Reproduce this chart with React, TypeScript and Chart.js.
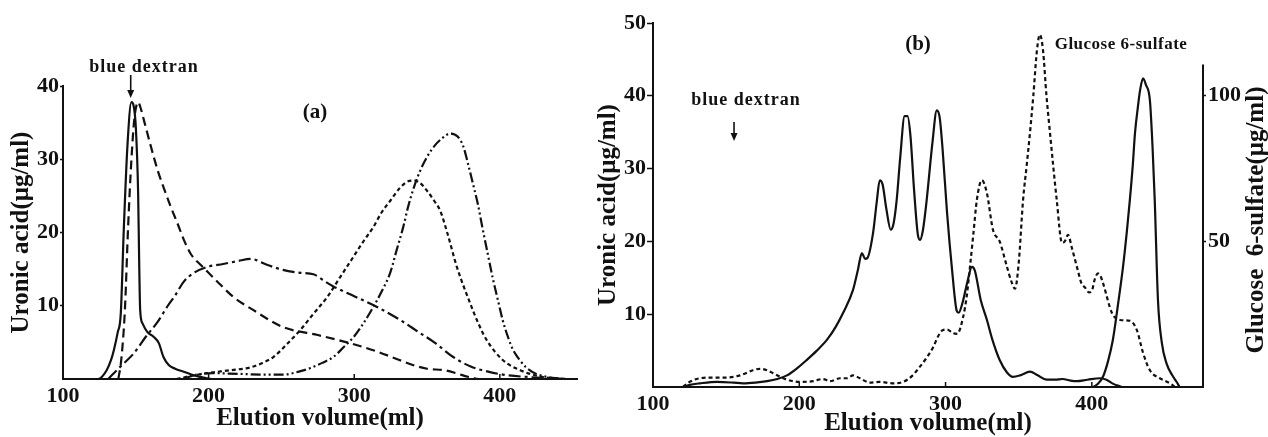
import React, { useEffect, useRef } from "react";
import { Chart, registerables } from "chart.js";

Chart.register(...registerables);

// ---------- Panel (a): uronic acid elution profiles ----------
const aXTicks = [100, 200, 300, 400];
const aYTicks = [10, 20, 30, 40];

const aSolidX = [100, 124, 130, 133, 135, 137.5, 139.7, 141.8, 144.3, 147, 148.6, 150, 151.6, 152.3, 153, 154.6, 158, 162, 165.8, 169, 172.6, 177, 182.9, 190, 199, 202];
const aSolidY = [0, 0, 1.2, 2.6, 4, 6.3, 9, 20.7, 32, 37.8, 37.2, 34.4, 25.4, 16.2, 9.4, 7.6, 6.4, 5.8, 4.9, 3, 1.9, 1.4, 1, 0.5, 0.1, 0];

const aDashX = [138, 140, 142.5, 144.7, 147, 149, 151.6, 153, 156, 160, 165, 169, 174, 178.5, 183, 188, 195, 205, 217, 230, 251, 275, 297, 315, 331, 342, 350, 362, 370, 378, 385];
const aDashY = [0, 2.6, 9.4, 20.7, 30, 35.5, 37.8, 37.2, 35, 32, 28.5, 26.2, 23.5, 21.3, 19, 17, 15.5, 13.5, 11.2, 9.5, 7.1, 6, 4.9, 3.8, 2.6, 1.8, 1.4, 1.2, 0.8, 0.3, 0];

const aDashDotX = [131, 140, 148.6, 157, 165, 172, 177, 183, 190, 199, 210, 220, 229, 240, 251, 263, 272, 280, 286, 300, 316, 332, 345, 355, 368, 380, 392, 402, 425, 446];
const aDashDotY = [0, 1.8, 3.5, 5.8, 7.8, 10, 11.4, 13.3, 14.5, 15.3, 15.7, 16.1, 16.4, 15.6, 14.9, 14.5, 14.3, 13.3, 12.6, 11.3, 9.8, 8, 6.3, 5, 3, 1.7, 1, 0.6, 0.2, 0];

const aDotX = [178, 190, 199, 215, 229, 237, 244.5, 253, 263, 272, 281.5, 290, 299.5, 306, 313, 319, 325, 331, 336, 341, 345, 350, 355, 359, 364, 370.5, 379.5, 385, 391, 402, 414, 429, 446];
const aDotY = [0, 0.5, 0.8, 1.2, 1.6, 2.2, 3, 4.6, 6.7, 8.9, 11.2, 13.8, 16.7, 18.7, 20.7, 22.8, 24.4, 26, 26.9, 27.1, 26.8, 25.7, 24.3, 23, 19.9, 15.3, 10.4, 7.7, 5.3, 2.6, 1.2, 0.3, 0];

const aDashDotDotX = [182, 192, 203, 220, 240, 251, 262, 270, 278, 285.6, 293, 299.5, 306, 313, 319, 324.7, 329, 333.6, 337, 340.4, 345, 350, 355, 360, 366, 371, 375, 378, 381.5, 385, 388, 392, 395, 399, 402, 406, 409, 414, 418, 425, 432, 443];
const aDashDotDotY = [0, 0.6, 0.8, 0.7, 0.6, 0.6, 1, 1.5, 2.2, 3, 4.4, 5.7, 7.5, 9.8, 12, 14.5, 17.5, 20.7, 23.5, 25.8, 28.3, 30.3, 31.8, 32.8, 33.5, 33.1, 31.7, 29.5, 26.7, 23.8, 20.7, 16.8, 13.9, 10.5, 8, 5.5, 4, 2.5, 1.6, 0.7, 0.3, 0];

// ---------- Panel (b) ----------
const bXTicks = [100, 200, 300, 400];
const bYTicks = [10, 20, 30, 40, 50];
const bY1Ticks = [50, 100];

const bSolidX = [100, 120, 125, 132, 143.7, 155, 161.5, 170, 178, 185, 191.6, 198, 205, 212, 219, 225, 230, 236.7, 240, 242.8, 245, 246.5, 250.4, 253, 255, 257, 259.5, 262.5, 264.5, 266.6, 269, 272, 274, 276, 278.5, 281, 282.5, 284.5, 287, 291, 294, 296, 298, 301, 304.5, 307.6, 309, 311.5, 315, 318, 320, 324, 328.3, 332, 337, 342, 346, 351, 357.7, 363, 369, 375, 380, 385, 389.6, 397, 405.5, 410, 414, 420.5];
const bSolidY = [0, 0, 0.3, 0.5, 0.7, 0.6, 0.5, 0.6, 0.8, 1.1, 1.6, 2.5, 3.7, 5, 6.5, 8.3, 10.2, 13.3, 16, 18.4, 17.6, 17.7, 21.1, 25.5, 28.4, 27.8, 24.5, 21.6, 22.5, 25.7, 31.5, 37.2, 37.2, 34.5, 27, 21, 20.2, 21.5, 25.5, 33.5, 38, 37, 32.6, 24, 16, 10.5, 10.2, 11.5, 14.5, 16.5, 16, 12, 9.2, 6.5, 3.7, 2, 1.4, 1.6, 2.1, 1.6, 1, 1, 1.1, 0.9, 0.8, 1, 1.2, 1, 0.5, 0];

const bDashX = [120.5, 125, 132, 140, 150.5, 159.5, 168.4, 173, 178, 182, 187, 191.6, 200.5, 209.4, 216, 221, 227.8, 232.6, 236.7, 241.5, 248.3, 255, 264, 271, 277, 282.5, 287, 291.6, 295, 298, 301, 305, 308, 312, 314.5, 316.7, 319, 321.4, 324.8, 328.3, 332.4, 337, 342, 345, 347.5, 350, 353, 355.5, 357.7, 360, 362.5, 364.5, 366.6, 369, 371.4, 376, 379.6, 381.5, 383.7, 386.5, 389.8, 393, 395.2, 398, 400, 402, 404.2, 406, 407.6, 413.7, 419.2, 426, 430.8, 435, 439.7, 446.5, 453.4, 456.8];
const bDashY = [0, 0.7, 1.2, 1.3, 1.3, 1.6, 2.3, 2.5, 2.3, 1.9, 1.4, 1, 0.7, 0.8, 1.1, 0.8, 1.2, 1.2, 1.6, 1.2, 0.6, 0.7, 0.5, 0.7, 1.5, 2.8, 4, 5.5, 7, 7.8, 7.9, 7.4, 7.3, 9.6, 12.5, 16.5, 21, 25.7, 28.4, 26.6, 21.6, 20, 16.5, 14.5, 13.5, 17, 25.7, 30.5, 34.9, 40, 46.3, 48.4, 46.3, 40, 34.9, 25.7, 19.8, 20, 20.9, 19, 16.5, 14.2, 13.7, 13, 13.2, 14.8, 15.6, 15.2, 14.3, 10.2, 9.2, 9.1, 7.8, 4.7, 2.3, 1.2, 0.5, 0];

// Glucose 6-sulfate (right axis, µg/ml)
const bGlcX = [400.8, 404, 407.6, 411, 414.4, 418, 421.3, 424, 426, 428, 429.5, 431.5, 433, 435, 437, 439.7, 441.5, 443, 445.2, 447.9, 451, 455, 458, 460];
const bGlcY = [0, 1, 3.5, 8.7, 16.2, 28.7, 41.1, 53.6, 64.1, 76, 87, 96, 101.7, 105.7, 103.5, 98.2, 82.3, 64.1, 29.9, 15, 8.2, 4, 1.7, 0];

// ---------- shared styling ----------
const SERIF = "'Liberation Serif', 'Times New Roman', serif";
const INK = "#111";

const pts = (xs: number[], ys: number[]) => xs.map((x, i) => ({ x, y: ys[i] }));

const line = (label: string, xs: number[], ys: number[], dash: number[], yAxisID = "y") => ({
  label,
  data: pts(xs, ys),
  yAxisID,
  borderColor: INK,
  borderWidth: 2.2,
  borderDash: dash,
  pointRadius: 0,
  fill: false,
  cubicInterpolationMode: "monotone" as const,
});

const keep = (vals: number[]) => (s: any) => {
  s.ticks = s.ticks.filter((t: any) => vals.some((v) => Math.abs(v - t.value) < 1e-6));
};

const tickFont = { family: SERIF, size: 22, weight: "bold" as const, lineHeight: 1 };
const titleFont = { family: SERIF, size: 25, weight: "bold" as const, lineHeight: 1 };

function drawArrow(ctx: CanvasRenderingContext2D, x: number, y0: number, y1: number) {
  ctx.save();
  ctx.strokeStyle = INK;
  ctx.fillStyle = INK;
  ctx.lineWidth = 1.6;
  ctx.beginPath();
  ctx.moveTo(x, y0);
  ctx.lineTo(x, y1 - 6);
  ctx.stroke();
  ctx.beginPath();
  ctx.moveTo(x - 3.5, y1 - 8);
  ctx.lineTo(x + 3.5, y1 - 8);
  ctx.lineTo(x, y1);
  ctx.closePath();
  ctx.fill();
  ctx.restore();
}

function innerXTicks(chart: any, vals: number[]) {
  const ctx = chart.ctx as CanvasRenderingContext2D;
  const xs = chart.scales.x;
  const bottom = chart.chartArea.bottom;
  ctx.save();
  ctx.strokeStyle = INK;
  ctx.lineWidth = 1.5;
  vals.forEach((v) => {
    const px = xs.getPixelForValue(v);
    ctx.beginPath();
    ctx.moveTo(px, bottom);
    ctx.lineTo(px, bottom - 5);
    ctx.stroke();
  });
  ctx.restore();
}

function text(ctx: CanvasRenderingContext2D, s: string, x: number, y: number, size: number, spacing = "0px") {
  ctx.save();
  ctx.fillStyle = INK;
  ctx.font = `bold ${size}px ${SERIF}`;
  (ctx as any).letterSpacing = spacing;
  ctx.textAlign = "center";
  ctx.textBaseline = "middle";
  ctx.fillText(s, x, y);
  ctx.restore();
}

const annotA = {
  id: "annotA",
  afterDraw(chart: any) {
    const ctx = chart.ctx as CanvasRenderingContext2D;
    const xs = chart.scales.x;
    innerXTicks(chart, [200, 300, 400]);
    text(ctx, "blue dextran", 144, 67, 18, "1px");
    drawArrow(ctx, xs.getPixelForValue(146.5), 75, 98);
    text(ctx, "(a)", 315, 113, 21);
  },
};

const annotB = {
  id: "annotB",
  afterDraw(chart: any) {
    const ctx = chart.ctx as CanvasRenderingContext2D;
    const xs = chart.scales.x;
    const y1 = chart.scales.y1;
    innerXTicks(chart, [200, 300, 400]);
    // right axis line (0 to ~110)
    ctx.save();
    ctx.strokeStyle = INK;
    ctx.lineWidth = 2;
    ctx.beginPath();
    ctx.moveTo(y1.left, y1.getPixelForValue(0));
    ctx.lineTo(y1.left, y1.getPixelForValue(110.5));
    ctx.stroke();
    ctx.restore();
    text(ctx, "(b)", 328, 45, 21);
    text(ctx, "blue dextran", 156, 100, 18, "1px");
    drawArrow(ctx, xs.getPixelForValue(155.4), 122, 141);
    text(ctx, "Glucose 6-sulfate", 531, 45, 17, "0.5px");
    // right axis title, reading bottom to top
    ctx.save();
    ctx.translate(667, 220);
    ctx.rotate(-Math.PI / 2);
    text(ctx, "Glucose  6-sulfate(\u03bcg/ml)", 0, 0, 25);
    ctx.restore();
  },
};

const cfgA: any = {
  type: "line",
  data: {
    datasets: [
      line("blue dextran fraction", aSolidX, aSolidY, []),
      line("fraction 2", aDashX, aDashY, [9, 5]),
      line("fraction 3", aDashDotX, aDashDotY, [12, 4, 3, 4]),
      line("fraction 4", aDotX, aDotY, [4, 3]),
      line("fraction 5", aDashDotDotX, aDashDotDotY, [10, 3, 2, 3, 2, 3]),
    ],
  },
  options: {
    responsive: false,
    animation: false,
    events: [],
    layout: { padding: { top: 86, right: 13, left: 0, bottom: 0 } },
    plugins: { legend: { display: false }, tooltip: { enabled: false } },
    scales: {
      x: {
        type: "linear",
        min: 100,
        max: 453,
        afterBuildTicks: keep(aXTicks),
        afterFit: (s: any) => { s.height = 58; },
        ticks: { stepSize: 100, color: INK, font: tickFont, padding: 6, maxRotation: 0 },
        grid: { display: true, drawOnChartArea: false, drawTicks: false },
        border: { display: true, color: INK, width: 2 },
        title: { display: true, text: "Elution volume(ml)", color: INK, font: titleFont, padding: { top: 0, bottom: 5.5 } },
      },
      y: {
        type: "linear",
        min: 0,
        max: 40,
        afterBuildTicks: keep(aYTicks),
        afterFit: (s: any) => { s.width = 63; },
        ticks: { stepSize: 10, color: INK, font: tickFont, padding: 1 },
        grid: { display: true, drawOnChartArea: false, drawTicks: true, tickLength: 3, color: INK, tickWidth: 1.5 },
        border: { display: true, color: INK, width: 2 },
        title: { display: true, text: "Uronic acid(\u03bcg/ml)", color: INK, font: titleFont, padding: { top: 9.5, bottom: 0 } },
      },
    },
  },
  plugins: [annotA],
};

const cfgB: any = {
  type: "line",
  data: {
    datasets: [
      line("uronic acid", bSolidX, bSolidY, []),
      line("uronic acid (dashed)", bDashX, bDashY, [4, 3]),
      line("Glucose 6-sulfate", bGlcX, bGlcY, [], "y1"),
    ],
  },
  options: {
    responsive: false,
    animation: false,
    events: [],
    layout: { padding: { top: 23, right: 0, left: 0, bottom: 0 } },
    plugins: { legend: { display: false }, tooltip: { enabled: false } },
    scales: {
      x: {
        type: "linear",
        min: 100,
        max: 476,
        afterBuildTicks: keep(bXTicks),
        afterFit: (s: any) => { s.height = 50; },
        ticks: { stepSize: 100, color: INK, font: tickFont, padding: 6, maxRotation: 0 },
        grid: { display: true, drawOnChartArea: false, drawTicks: false },
        border: { display: true, color: INK, width: 2 },
        title: { display: true, text: "Elution volume(ml)", color: INK, font: titleFont, padding: { top: 0, bottom: 0.5 } },
      },
      y: {
        type: "linear",
        position: "left",
        min: 0,
        max: 50,
        afterBuildTicks: keep(bYTicks),
        afterFit: (s: any) => { s.width = 63; },
        ticks: { stepSize: 10, color: INK, font: tickFont, padding: 1 },
        grid: { display: true, drawOnChartArea: false, drawTicks: true, tickLength: 6, color: INK, tickWidth: 1.5 },
        border: { display: true, color: INK, width: 2 },
        title: { display: true, text: "Uronic acid(\u03bcg/ml)", color: INK, font: titleFont, padding: { top: 6.5, bottom: 0 } },
      },
      y1: {
        type: "linear",
        position: "right",
        min: 0,
        max: 124.7,
        afterBuildTicks: keep(bY1Ticks),
        afterFit: (s: any) => { s.width = 65; },
        ticks: { stepSize: 50, color: INK, font: tickFont, padding: 2 },
        grid: { display: true, drawOnChartArea: false, drawTicks: true, tickLength: 3, color: INK, tickWidth: 1.5 },
        border: { display: false },
        title: { display: false },
      },
    },
  },
  plugins: [annotB],
};

export default function App() {
  const refA = useRef<HTMLCanvasElement>(null);
  const refB = useRef<HTMLCanvasElement>(null);

  useEffect(() => {
    const a = new Chart(refA.current as HTMLCanvasElement, cfgA);
    const b = new Chart(refB.current as HTMLCanvasElement, cfgB);
    return () => {
      a.destroy();
      b.destroy();
    };
  }, []);

  return (
    <div style={{ position: "fixed", left: 0, top: 0, width: 1268, height: 437, background: "#fff", overflow: "hidden" }}>
      <canvas ref={refA} width={590} height={437} style={{ position: "absolute", left: 0, top: 0 }} />
      <canvas ref={refB} width={678} height={437} style={{ position: "absolute", left: 590, top: 0 }} />
    </div>
  );
}
